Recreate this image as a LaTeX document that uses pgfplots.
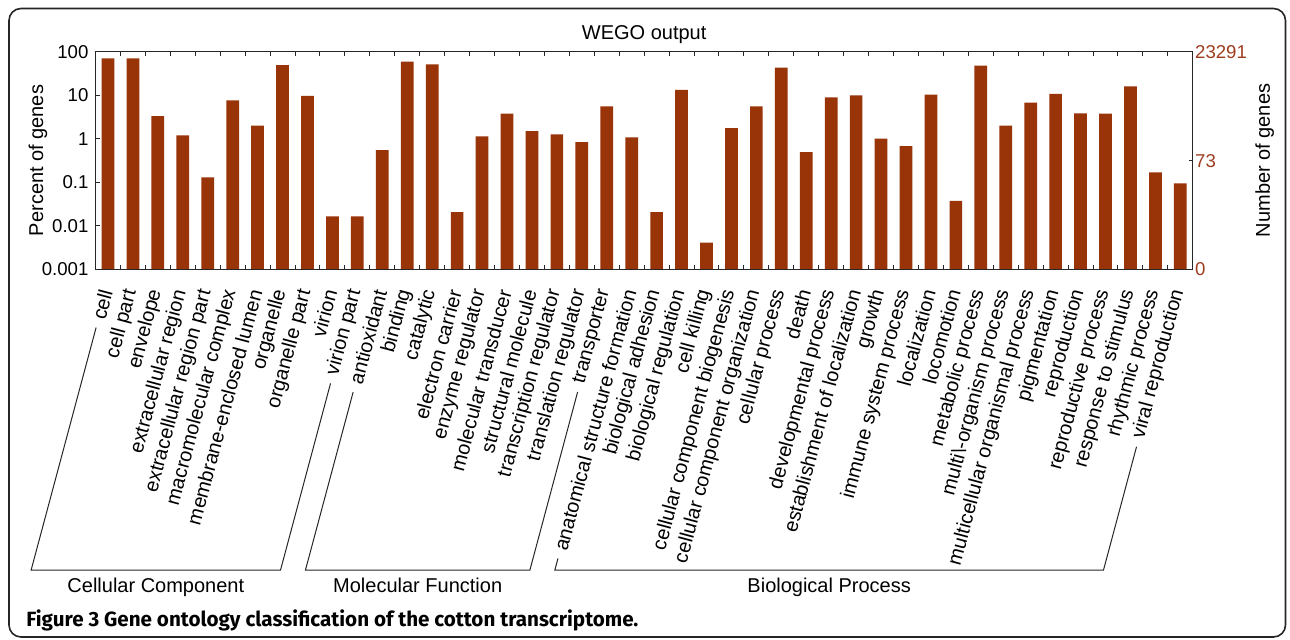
\documentclass[border=0pt]{standalone}
\usepackage{fontspec}
\setmainfont{Liberation Sans}
\newfontfamily\capfont{Fira Sans}
\usepackage{pgfplots}
\pgfplotsset{compat=1.18}
\usetikzlibrary{calc}
\definecolor{barc}{RGB}{153,51,8}
\definecolor{rlab}{RGB}{158,60,30}
\newcommand\lf{\fontsize{10}{12}\selectfont}
\newcommand\tf{\fontsize{9.3}{11}\selectfont}
\newlength\wA\newlength\wB\newlength\wC\newlength\wD\newlength\wE\newlength\wF
\begin{document}
\settowidth{\wA}{\lf cell}\addtolength{\wA}{7.9pt}%
\settowidth{\wB}{\lf virion part}\addtolength{\wB}{7.9pt}%
\settowidth{\wC}{\lf antioxidant}\addtolength{\wC}{7.9pt}%
\settowidth{\wD}{\lf transporter}\addtolength{\wD}{7.9pt}%
\settowidth{\wE}{\lf anatomical structure formation}\addtolength{\wE}{7.9pt}%
\settowidth{\wF}{\lf viral reproduction}\addtolength{\wF}{7.9pt}%
\begin{tikzpicture}
\useasboundingbox (0,0) rectangle (645pt,-320pt);
\begin{scope}[x=0.5pt,y=-0.5pt]
\draw[rounded corners=6pt, line width=0.8pt, black!85] (9,8.5) rectangle (1285.5,637);
\end{scope}
\begin{axis}[
  at={(47.75pt,-134.65pt)}, anchor=south west, scale only axis,
  width=548.65pt, height=108.8pt,
  xmin=-0.5, xmax=43.5, ymode=log, ymin=0.001, ymax=100,
  log origin y=infty, clip=false,
  axis line style={line width=0.6pt, black!85},
  tick align=inside, tick style={line width=0.5pt, black!85},
  major tick length=2pt, minor tick length=2pt,
  ytick={0.001,0.01,0.1,1,10,100},
  yticklabels={0.001,0.01,0.1,1,10,100},
  yminorticks=false, ytick pos=left,
  yticklabel style={font=\tf},
  xtick={0,...,43},
  minor x tick num=1,
  major x tick style={draw=none},
  xticklabel shift=7pt,
  xticklabel style={font=\lf, rotate=75, anchor=east},
  xticklabels={cell,cell part,envelope,extracellular region,extracellular region part,macromolecular complex,membrane-enclosed lumen,organelle,organelle part,virion,virion part,antioxidant,binding,catalytic,electron carrier,enzyme regulator,molecular transducer,structural molecule,transcription regulator,translation regulator,transporter,anatomical structure formation,biological adhesion,biological regulation,cell killing,cellular component biogenesis,cellular component organization,cellular process,death,developmental process,establishment of localization,growth,immune system process,localization,locomotion,metabolic process,multi\textbackslash{}-organism process,multicellular organismal process,pigmentation,reproduction,reproductive process,response to stimulus,rhythmic process,viral reproduction},
  title={WEGO output},
  title style={at={(0.5,1)}, anchor=base, yshift=-0.15pt, font=\lf},
  ylabel={Percent of genes},
  ylabel style={at={(axis description cs:-0.04784,0.5)}, anchor=base, font=\lf},
]
\addplot[ybar, bar width=0.51, fill=barc, draw=none] coordinates {
(0,70) (1,70) (2,3.3) (3,1.2) (4,0.13) (5,7.6) (6,2.0) (7,49) (8,9.7) (9,0.0165)
(10,0.0165) (11,0.55) (12,59) (13,51) (14,0.0206) (15,1.13) (16,3.76) (17,1.5) (18,1.26) (19,0.84)
(20,5.56) (21,1.08) (22,0.0206) (23,13.2) (24,0.0041) (25,1.76) (26,5.56) (27,42.9) (28,0.49) (29,8.96)
(30,9.95) (31,1.0) (32,0.68) (33,10.3) (34,0.0376) (35,47.6) (36,1.99) (37,6.73) (38,10.8) (39,3.84)
(40,3.8) (41,16) (42,0.169) (43,0.094)};
\coordinate (E0) at (axis cs:0,0.001);
\coordinate (E10) at (axis cs:10,0.001);
\coordinate (E11) at (axis cs:11,0.001);
\coordinate (E20) at (axis cs:20,0.001);
\coordinate (E21) at (axis cs:21,0.001);
\coordinate (E43) at (axis cs:43,0.001);
\end{axis}
\begin{axis}[
  at={(47.75pt,-134.65pt)}, anchor=south west, scale only axis,
  width=548.65pt, height=108.8pt,
  xmin=-0.5, xmax=43.5, ymode=log, ymin=0.001, ymax=100,
  axis line style={line width=0.6pt, black!85},
  tick align=inside, tick style={line width=0.5pt, black!85},
  major tick length=2pt,
  xtick=\empty,
  ytick={0.001,0.3134,100}, yticklabels={0,73,23291},
  yminorticks=false, ytick pos=right, yticklabel pos=right,
  yticklabel style={font=\tf, text=rlab, inner sep=1pt},
  ylabel={Number of genes},
  ylabel style={at={(axis description cs:1.0702,0.5)}, anchor=base, font=\lf},
]
\addplot[draw=none] coordinates {(0,1)};
\end{axis}
\foreach \i in {0,10,11,20,21,43}{
  \coordinate (F\i) at ($(E\i)+(0,-7pt)$);
  \coordinate (B\i) at ($(F\i)+(255:148.41pt)$);
}
\draw[line width=0.5pt, black!85] ($(F0)+(255:\wA)$) -- (B0) -- (B10) -- ($(F10)+(255:\wB)$);
\draw[line width=0.5pt, black!85] ($(F11)+(255:\wC)$) -- (B11) -- (B20) -- ($(F20)+(255:\wD)$);
\draw[line width=0.5pt, black!85] ($(F21)+(255:\wE)$) -- (B21) -- (B43) -- ($(F43)+(255:\wF)$);
\node[font=\lf, anchor=base] at ($(B0)!0.5!(B10)+(0,-11.35pt)$) {Cellular Component};
\node[font=\lf, anchor=base] at ($(B11)!0.5!(B20)+(0,-11.35pt)$) {Molecular Function};
\node[font=\lf, anchor=base] at ($(B21)!0.5!(B43)+(0,-11.35pt)$) {Biological Process};
\node[anchor=base west, inner sep=0] at (13pt,-313pt) {\resizebox{306pt}{!}{\capfont\bfseries Figure 3 Gene ontology classification of the cotton transcriptome.}};
\end{tikzpicture}
\end{document}
